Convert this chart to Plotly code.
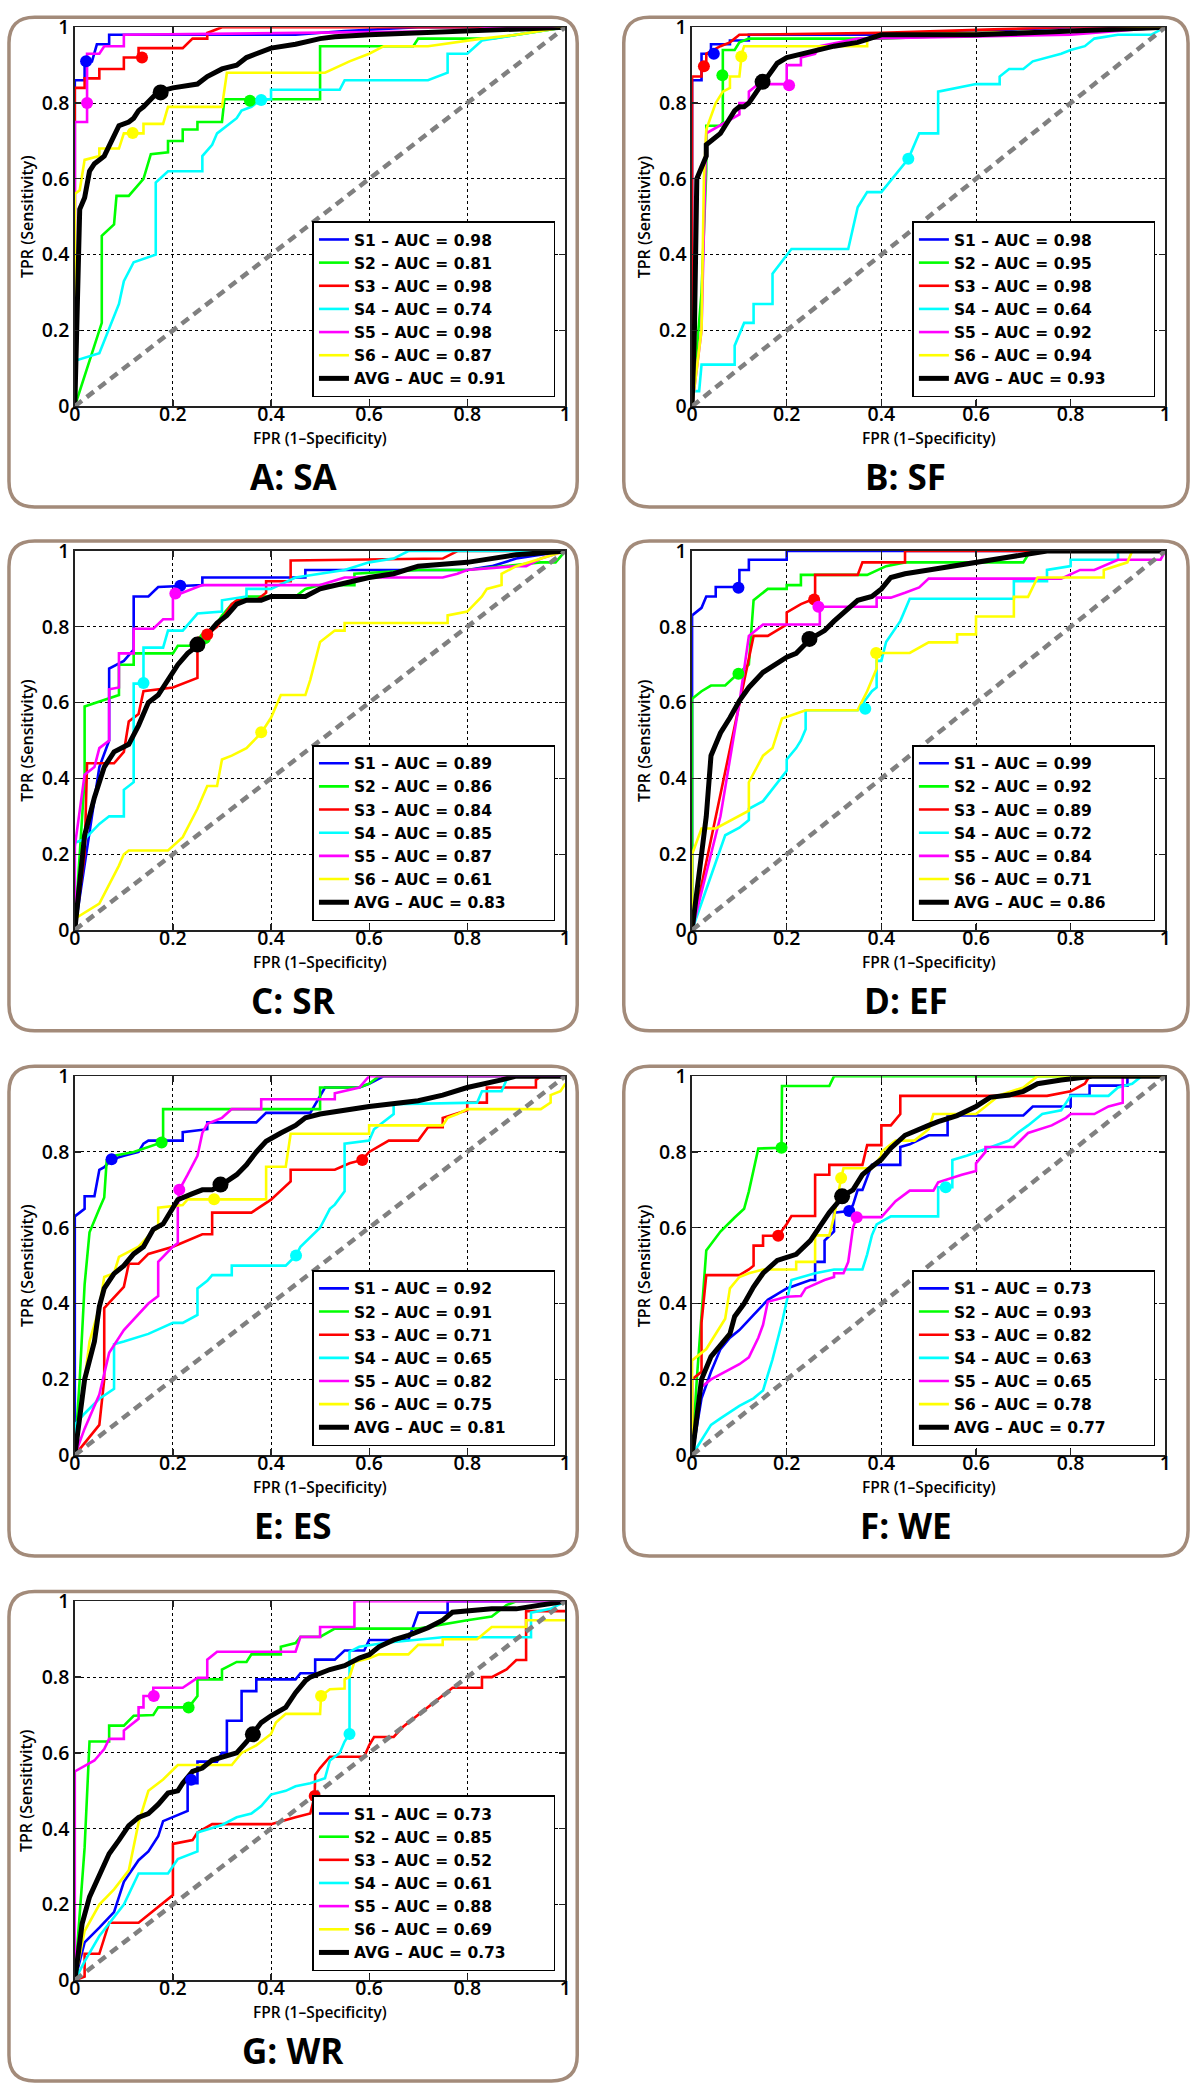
import plotly.graph_objects as go

# ---------------- data ----------------
PANEL_TITLES = ["A: SA", "B: SF", "C: SR", "D: EF", "E: ES", "F: WE", "G: WR"]
SERIES_NAMES = ["S1", "S2", "S3", "S4", "S5", "S6", "AVG"]
SERIES_COLORS = ["#0000ff", "#00ff00", "#ff0000", "#00ffff", "#ff00ff", "#ffff00", "#000000"]
TICK_VALS = [0, 0.2, 0.4, 0.6, 0.8, 1]
TICK_TEXT = ["0", "0.2", "0.4", "0.6", "0.8", "1"]

AUC_A = [0.98, 0.81, 0.98, 0.74, 0.98, 0.87, 0.91]
AUC_B = [0.98, 0.95, 0.98, 0.64, 0.92, 0.94, 0.93]
AUC_C = [0.89, 0.86, 0.84, 0.85, 0.87, 0.61, 0.83]
AUC_D = [0.99, 0.92, 0.89, 0.72, 0.84, 0.71, 0.86]
AUC_E = [0.92, 0.91, 0.71, 0.65, 0.82, 0.75, 0.81]
AUC_F = [0.73, 0.93, 0.82, 0.63, 0.65, 0.78, 0.77]
AUC_G = [0.73, 0.85, 0.52, 0.61, 0.88, 0.69, 0.73]

# ---- Panel A ----
A_S1 = [(0,0),(0,0.86),(0.02,0.86),(0.02,0.91),(0.035,0.91),(0.045,0.955),(0.07,0.955),(0.07,0.98),(0.45,0.98),(0.55,0.99),(0.7,1),(1,1)]
A_S2 = [(0,0),(0.055,0.22),(0.055,0.45),(0.08,0.48),(0.085,0.555),(0.11,0.555),(0.14,0.6),(0.155,0.665),(0.19,0.67),(0.19,0.70),(0.22,0.70),(0.22,0.73),(0.25,0.73),(0.25,0.75),(0.30,0.75),(0.305,0.81),(0.50,0.81),(0.50,0.95),(0.69,0.95),(0.70,0.97),(0.85,0.97),(1,1)]
A_S3 = [(0,0),(0,0.84),(0.02,0.84),(0.02,0.865),(0.05,0.865),(0.05,0.89),(0.10,0.89),(0.10,0.92),(0.13,0.92),(0.13,0.945),(0.22,0.945),(0.24,0.97),(0.27,0.97),(0.27,0.985),(0.30,1),(1,1)]
A_S4 = [(0,0),(0,0.12),(0.05,0.14),(0.09,0.27),(0.10,0.33),(0.12,0.38),(0.165,0.40),(0.165,0.59),(0.19,0.62),(0.26,0.62),(0.26,0.66),(0.28,0.69),(0.29,0.72),(0.33,0.76),(0.34,0.78),(0.36,0.79),(0.38,0.81),(0.40,0.81),(0.40,0.835),(0.54,0.835),(0.55,0.86),(0.72,0.86),(0.76,0.88),(0.76,0.93),(0.80,0.93),(0.83,0.965),(0.9,0.98),(1,1)]
A_S5 = [(0,0),(0,0.75),(0.025,0.75),(0.025,0.93),(0.05,0.93),(0.06,0.95),(0.10,0.95),(0.10,0.98),(0.80,0.99),(0.85,1),(1,1)]
A_S6 = [(0,0),(0,0.56),(0.01,0.57),(0.02,0.65),(0.05,0.66),(0.05,0.68),(0.09,0.68),(0.10,0.72),(0.14,0.72),(0.14,0.745),(0.18,0.745),(0.19,0.79),(0.30,0.79),(0.31,0.88),(0.51,0.88),(0.56,0.91),(0.60,0.93),(0.63,0.95),(0.72,0.95),(0.83,0.97),(0.9,0.98),(1,1)]
A_AVG = [(0,0),(0.005,0.3),(0.01,0.52),(0.02,0.55),(0.03,0.62),(0.04,0.64),(0.06,0.66),(0.075,0.70),(0.09,0.74),(0.11,0.75),(0.12,0.76),(0.13,0.78),(0.14,0.79),(0.155,0.81),(0.17,0.83),(0.2,0.84),(0.25,0.85),(0.27,0.87),(0.3,0.89),(0.33,0.90),(0.35,0.92),(0.4,0.945),(0.45,0.955),(0.5,0.97),(0.53,0.975),(0.6,0.98),(0.8,0.99),(1,1)]
A_MARK_X = [0.023, 0.357, 0.137, 0.38, 0.025, 0.118, 0.175]
A_MARK_Y = [0.91, 0.806, 0.92, 0.808, 0.80, 0.721, 0.828]

# ---- Panel B ----
B_S1 = [(0,0),(0,0.86),(0.02,0.86),(0.02,0.93),(0.04,0.93),(0.04,0.955),(0.08,0.955),(0.08,0.965),(0.12,0.965),(0.12,0.98),(0.4,0.98),(0.8,1),(1,1)]
B_S2 = [(0,0),(0.02,0.3),(0.03,0.62),(0.03,0.74),(0.06,0.74),(0.065,0.75),(0.065,0.94),(0.09,0.94),(0.10,0.96),(0.12,0.97),(0.4,0.97),(0.8,0.99),(1,1)]
B_S3 = [(0,0),(0,0.87),(0.02,0.87),(0.02,0.89),(0.03,0.90),(0.03,0.93),(0.06,0.95),(0.08,0.96),(0.10,0.98),(0.4,0.985),(0.78,1),(1,1)]
B_S4 = [(0,0),(0,0.04),(0.015,0.04),(0.02,0.11),(0.09,0.11),(0.09,0.16),(0.11,0.22),(0.13,0.22),(0.13,0.27),(0.17,0.27),(0.17,0.35),(0.2,0.40),(0.21,0.415),(0.33,0.415),(0.35,0.525),(0.37,0.565),(0.40,0.565),(0.457,0.653),(0.48,0.72),(0.52,0.72),(0.52,0.83),(0.6,0.85),(0.65,0.85),(0.65,0.87),(0.67,0.89),(0.7,0.89),(0.72,0.91),(0.78,0.93),(0.8,0.94),(0.83,0.95),(0.85,0.97),(0.9,0.98),(0.97,0.98),(1,1)]
B_S5 = [(0,0),(0.02,0.2),(0.03,0.72),(0.10,0.77),(0.10,0.80),(0.12,0.80),(0.12,0.83),(0.14,0.85),(0.2,0.85),(0.2,0.90),(0.23,0.90),(0.23,0.92),(0.26,0.93),(0.27,0.95),(0.35,0.97),(0.8,0.98),(1,1)]
B_S6 = [(0,0),(0.02,0.2),(0.025,0.6),(0.03,0.73),(0.05,0.80),(0.065,0.83),(0.08,0.84),(0.08,0.87),(0.10,0.87),(0.105,0.93),(0.11,0.95),(0.37,0.95),(0.37,0.97),(0.4,0.98),(0.8,0.99),(1,1)]
B_AVG = [(0,0),(0.005,0.2),(0.01,0.6),(0.02,0.63),(0.03,0.66),(0.03,0.69),(0.04,0.70),(0.05,0.71),(0.06,0.72),(0.07,0.74),(0.08,0.76),(0.09,0.78),(0.1,0.79),(0.11,0.79),(0.12,0.80),(0.14,0.84),(0.15,0.855),(0.16,0.87),(0.17,0.89),(0.18,0.905),(0.2,0.92),(0.23,0.93),(0.26,0.94),(0.3,0.95),(0.35,0.96),(0.4,0.98),(0.6,0.98),(0.8,0.99),(1,1)]
B_MARK_X = [0.046, 0.064, 0.025, 0.457, 0.205, 0.104, 0.149]
B_MARK_Y = [0.93, 0.873, 0.897, 0.653, 0.847, 0.923, 0.856]

# ---- Panel C ----
C_S1 = [(0,0),(0.05,0.43),(0.07,0.50),(0.07,0.69),(0.10,0.71),(0.12,0.74),(0.12,0.88),(0.15,0.88),(0.17,0.905),(0.26,0.91),(0.26,0.93),(0.47,0.93),(0.47,0.95),(0.8,0.95),(0.85,0.96),(0.9,0.98),(1,1)]
C_S2 = [(0,0),(0.02,0.4),(0.02,0.59),(0.07,0.61),(0.09,0.62),(0.09,0.70),(0.12,0.70),(0.12,0.73),(0.2,0.73),(0.21,0.75),(0.25,0.75),(0.27,0.77),(0.3,0.83),(0.32,0.86),(0.35,0.88),(0.45,0.88),(0.47,0.90),(0.5,0.91),(0.57,0.91),(0.57,0.94),(0.7,0.95),(0.8,0.95),(0.95,0.97),(0.98,0.97),(1,1)]
C_S3 = [(0,0),(0.02,0.2),(0.025,0.44),(0.08,0.44),(0.10,0.47),(0.11,0.55),(0.13,0.57),(0.14,0.63),(0.2,0.64),(0.25,0.665),(0.25,0.77),(0.27,0.78),(0.29,0.80),(0.3,0.82),(0.32,0.86),(0.33,0.87),(0.37,0.87),(0.39,0.89),(0.39,0.92),(0.44,0.92),(0.44,0.975),(0.75,0.98),(0.78,1),(1,1)]
C_S4 = [(0,0),(0,0.23),(0.02,0.24),(0.05,0.28),(0.07,0.30),(0.10,0.30),(0.10,0.37),(0.12,0.39),(0.12,0.65),(0.14,0.65),(0.14,0.745),(0.18,0.745),(0.19,0.79),(0.22,0.79),(0.25,0.835),(0.3,0.84),(0.3,0.87),(0.35,0.88),(0.35,0.90),(0.4,0.90),(0.45,0.93),(0.5,0.94),(0.55,0.95),(0.6,0.97),(0.65,0.98),(0.68,1),(1,1)]
C_S5 = [(0,0),(0,0.22),(0.02,0.41),(0.04,0.43),(0.05,0.48),(0.07,0.50),(0.07,0.635),(0.09,0.64),(0.09,0.73),(0.12,0.73),(0.12,0.795),(0.16,0.795),(0.18,0.82),(0.2,0.82),(0.2,0.88),(0.22,0.89),(0.24,0.90),(0.26,0.91),(0.5,0.91),(0.55,0.93),(0.75,0.93),(0.78,0.94),(0.8,0.95),(0.9,0.96),(0.92,0.96),(0.95,0.98),(1,1)]
C_S6 = [(0,0),(0,0.03),(0.05,0.07),(0.09,0.17),(0.10,0.20),(0.11,0.21),(0.19,0.21),(0.22,0.245),(0.25,0.32),(0.27,0.38),(0.29,0.38),(0.30,0.45),(0.32,0.46),(0.35,0.48),(0.38,0.52),(0.4,0.56),(0.42,0.62),(0.47,0.62),(0.48,0.66),(0.5,0.76),(0.53,0.79),(0.55,0.79),(0.55,0.81),(0.76,0.81),(0.76,0.83),(0.8,0.84),(0.83,0.88),(0.84,0.90),(0.87,0.91),(0.87,0.94),(0.9,0.96),(0.95,0.98),(1,1)]
C_AVG = [(0,0),(0.02,0.25),(0.04,0.35),(0.06,0.43),(0.08,0.47),(0.11,0.49),(0.13,0.54),(0.15,0.60),(0.17,0.62),(0.19,0.66),(0.21,0.70),(0.23,0.73),(0.25,0.75),(0.27,0.78),(0.29,0.81),(0.31,0.83),(0.33,0.86),(0.35,0.87),(0.38,0.87),(0.4,0.88),(0.47,0.88),(0.5,0.90),(0.53,0.91),(0.6,0.93),(0.65,0.94),(0.7,0.96),(0.8,0.97),(0.9,0.99),(1,1)]
C_MARK_X = [0.215, 0.265, 0.27, 0.14, 0.205, 0.38, 0.25]
C_MARK_Y = [0.908, 0.77, 0.78, 0.652, 0.888, 0.522, 0.753]

# ---- Panel D ----
D_S1 = [(0,0),(0,0.83),(0.02,0.85),(0.03,0.88),(0.05,0.88),(0.05,0.905),(0.10,0.905),(0.10,0.95),(0.12,0.95),(0.12,0.977),(0.2,0.977),(0.2,1),(1,1)]
D_S2 = [(0,0),(0,0.61),(0.02,0.63),(0.04,0.645),(0.07,0.645),(0.09,0.67),(0.10,0.68),(0.12,0.70),(0.13,0.87),(0.16,0.90),(0.2,0.90),(0.2,0.91),(0.23,0.91),(0.23,0.937),(0.37,0.937),(0.41,0.96),(0.45,0.97),(0.70,0.97),(0.71,0.99),(0.72,1),(1,1)]
D_S3 = [(0,0),(0.12,0.72),(0.13,0.776),(0.16,0.776),(0.2,0.806),(0.2,0.838),(0.23,0.86),(0.25,0.87),(0.26,0.872),(0.26,0.937),(0.35,0.937),(0.36,0.97),(0.45,0.97),(0.45,1),(1,1)]
D_S4 = [(0,0),(0.07,0.25),(0.10,0.27),(0.12,0.29),(0.12,0.32),(0.15,0.34),(0.2,0.42),(0.2,0.45),(0.22,0.48),(0.23,0.50),(0.24,0.53),(0.24,0.58),(0.35,0.58),(0.38,0.63),(0.39,0.64),(0.39,0.71),(0.40,0.71),(0.41,0.76),(0.44,0.815),(0.46,0.874),(0.68,0.874),(0.68,0.92),(0.75,0.92),(0.75,0.95),(0.8,0.96),(0.8,0.977),(0.9,0.977),(0.9,1),(1,1)]
D_S5 = [(0,0),(0.06,0.3),(0.10,0.6),(0.12,0.776),(0.15,0.806),(0.27,0.806),(0.27,0.853),(0.39,0.853),(0.39,0.877),(0.42,0.877),(0.45,0.89),(0.48,0.904),(0.5,0.927),(0.78,0.927),(0.82,0.95),(0.85,0.95),(0.9,0.977),(0.99,0.977),(1,1)]
D_S6 = [(0,0),(0,0.2),(0.02,0.268),(0.05,0.268),(0.12,0.315),(0.12,0.39),(0.15,0.46),(0.17,0.48),(0.19,0.558),(0.24,0.58),(0.35,0.58),(0.37,0.63),(0.39,0.69),(0.39,0.731),(0.46,0.731),(0.5,0.759),(0.56,0.759),(0.56,0.78),(0.6,0.78),(0.6,0.827),(0.68,0.827),(0.68,0.879),(0.71,0.879),(0.73,0.93),(0.87,0.93),(0.87,0.95),(0.92,0.97),(0.93,1),(1,1)]
D_AVG = [(0,0),(0.01,0.1),(0.03,0.3),(0.04,0.46),(0.06,0.52),(0.08,0.56),(0.1,0.605),(0.12,0.64),(0.15,0.68),(0.2,0.72),(0.22,0.73),(0.25,0.768),(0.28,0.79),(0.3,0.815),(0.33,0.85),(0.35,0.87),(0.38,0.88),(0.4,0.9),(0.42,0.93),(0.45,0.94),(0.5,0.95),(0.55,0.96),(0.6,0.968),(0.65,0.98),(0.7,0.99),(0.75,1),(1,1)]
D_MARK_X = [0.098, 0.098, 0.258, 0.366, 0.267, 0.389, 0.248]
D_MARK_Y = [0.903, 0.676, 0.872, 0.584, 0.853, 0.731, 0.768]

# ---- Panel E ----
E_S1 = [(0,0),(0,0.63),(0.02,0.65),(0.02,0.683),(0.04,0.683),(0.05,0.753),(0.06,0.76),(0.075,0.78),(0.1,0.79),(0.13,0.80),(0.14,0.822),(0.15,0.83),(0.22,0.83),(0.22,0.852),(0.27,0.86),(0.27,0.878),(0.37,0.878),(0.39,0.903),(0.48,0.903),(0.5,0.95),(0.51,0.97),(0.58,0.97),(0.6,0.98),(0.63,1),(1,1)]
E_S2 = [(0,0),(0.01,0.2),(0.02,0.45),(0.03,0.588),(0.05,0.65),(0.06,0.68),(0.065,0.778),(0.08,0.79),(0.12,0.80),(0.177,0.825),(0.18,0.83),(0.18,0.913),(0.5,0.913),(0.5,0.97),(0.58,0.97),(0.6,0.98),(0.62,1),(1,1)]
E_S3 = [(0,0),(0.05,0.08),(0.06,0.2),(0.06,0.388),(0.10,0.444),(0.11,0.505),(0.13,0.505),(0.15,0.531),(0.2,0.55),(0.26,0.583),(0.28,0.583),(0.28,0.64),(0.36,0.64),(0.4,0.674),(0.44,0.722),(0.44,0.753),(0.53,0.753),(0.56,0.77),(0.586,0.779),(0.6,0.8),(0.64,0.83),(0.7,0.83),(0.72,0.865),(0.75,0.865),(0.75,0.89),(0.8,0.91),(0.8,0.93),(0.84,0.93),(0.84,0.97),(0.94,0.97),(0.94,0.99),(0.95,1),(1,1)]
E_S4 = [(0,0),(0,0.08),(0.02,0.11),(0.05,0.149),(0.08,0.175),(0.08,0.293),(0.10,0.30),(0.15,0.32),(0.2,0.349),(0.22,0.349),(0.25,0.37),(0.25,0.44),(0.27,0.46),(0.28,0.475),(0.32,0.475),(0.32,0.50),(0.43,0.50),(0.451,0.527),(0.46,0.55),(0.48,0.575),(0.5,0.6),(0.52,0.65),(0.53,0.661),(0.55,0.696),(0.55,0.822),(0.6,0.83),(0.61,0.86),(0.65,0.9),(0.65,0.926),(0.82,0.93),(0.83,0.96),(0.87,0.96),(0.88,0.99),(0.9,1),(1,1)]
E_S5 = [(0,0),(0.02,0.07),(0.05,0.16),(0.07,0.27),(0.10,0.33),(0.12,0.357),(0.15,0.40),(0.17,0.42),(0.17,0.51),(0.2,0.55),(0.21,0.56),(0.21,0.657),(0.213,0.70),(0.23,0.74),(0.25,0.79),(0.26,0.85),(0.27,0.874),(0.3,0.89),(0.32,0.913),(0.38,0.913),(0.38,0.939),(0.53,0.939),(0.53,0.955),(0.58,0.97),(0.6,1),(1,1)]
E_S6 = [(0,0),(0.02,0.2),(0.03,0.3),(0.05,0.39),(0.06,0.47),(0.08,0.48),(0.09,0.523),(0.13,0.55),(0.16,0.592),(0.17,0.60),(0.17,0.653),(0.22,0.66),(0.23,0.675),(0.39,0.675),(0.39,0.761),(0.43,0.761),(0.44,0.848),(0.6,0.848),(0.6,0.87),(0.75,0.87),(0.76,0.89),(0.78,0.90),(0.8,0.913),(0.95,0.913),(0.97,0.93),(0.97,0.95),(0.99,0.96),(1,0.98)]
E_AVG = [(0,0),(0.01,0.1),(0.02,0.2),(0.04,0.3),(0.05,0.392),(0.06,0.44),(0.08,0.479),(0.1,0.5),(0.12,0.531),(0.14,0.55),(0.16,0.596),(0.18,0.61),(0.2,0.65),(0.21,0.674),(0.24,0.69),(0.26,0.70),(0.28,0.70),(0.3,0.714),(0.33,0.74),(0.35,0.766),(0.37,0.80),(0.39,0.828),(0.42,0.85),(0.45,0.87),(0.47,0.89),(0.5,0.90),(0.6,0.92),(0.7,0.935),(0.75,0.95),(0.8,0.97),(0.87,0.99),(0.9,1),(1,1)]
E_MARK_X = [0.075, 0.177, 0.586, 0.451, 0.213, 0.284, 0.297]
E_MARK_Y = [0.781, 0.825, 0.779, 0.527, 0.70, 0.675, 0.714]

# ---- Panel F ----
F_S1 = [(0,0),(0.02,0.15),(0.04,0.22),(0.06,0.28),(0.08,0.31),(0.10,0.33),(0.13,0.37),(0.16,0.41),(0.2,0.44),(0.25,0.462),(0.26,0.462),(0.26,0.51),(0.28,0.51),(0.28,0.566),(0.3,0.59),(0.3,0.64),(0.332,0.644),(0.34,0.66),(0.35,0.70),(0.36,0.70),(0.38,0.766),(0.44,0.766),(0.44,0.813),(0.46,0.82),(0.5,0.844),(0.54,0.844),(0.54,0.896),(0.7,0.896),(0.72,0.92),(0.8,0.92),(0.8,0.95),(0.84,0.95),(0.84,0.975),(0.92,0.975),(0.92,1),(1,1)]
F_S2 = [(0,0),(0.01,0.2),(0.03,0.54),(0.06,0.59),(0.09,0.627),(0.11,0.65),(0.12,0.696),(0.13,0.75),(0.14,0.809),(0.189,0.811),(0.19,0.974),(0.29,0.974),(0.3,1),(1,1)]
F_S3 = [(0,0),(0,0.2),(0.02,0.22),(0.02,0.35),(0.03,0.475),(0.10,0.475),(0.12,0.49),(0.13,0.50),(0.13,0.553),(0.15,0.553),(0.15,0.579),(0.182,0.579),(0.2,0.61),(0.21,0.631),(0.26,0.631),(0.26,0.74),(0.29,0.74),(0.29,0.766),(0.36,0.766),(0.37,0.818),(0.4,0.818),(0.4,0.87),(0.42,0.87),(0.44,0.9),(0.44,0.948),(0.75,0.948),(0.8,0.96),(0.83,0.98),(0.84,1),(1,1)]
F_S4 = [(0,0),(0.04,0.08),(0.06,0.097),(0.10,0.13),(0.13,0.15),(0.15,0.171),(0.17,0.253),(0.19,0.35),(0.21,0.462),(0.26,0.48),(0.3,0.49),(0.36,0.49),(0.37,0.53),(0.38,0.58),(0.39,0.609),(0.42,0.63),(0.52,0.63),(0.52,0.707),(0.55,0.707),(0.55,0.779),(0.58,0.79),(0.65,0.82),(0.67,0.83),(0.69,0.852),(0.71,0.87),(0.74,0.90),(0.78,0.91),(0.8,0.948),(0.88,0.948),(0.9,0.97),(0.93,0.98),(0.95,1),(1,1)]
F_S5 = [(0,0),(0.01,0.1),(0.02,0.18),(0.04,0.2),(0.10,0.24),(0.12,0.258),(0.14,0.31),(0.15,0.344),(0.16,0.405),(0.2,0.418),(0.23,0.42),(0.24,0.44),(0.28,0.462),(0.3,0.47),(0.3,0.48),(0.32,0.48),(0.33,0.51),(0.34,0.60),(0.348,0.628),(0.4,0.628),(0.43,0.67),(0.46,0.698),(0.51,0.698),(0.52,0.72),(0.57,0.74),(0.6,0.75),(0.6,0.77),(0.62,0.8),(0.62,0.813),(0.68,0.813),(0.71,0.85),(0.76,0.87),(0.79,0.89),(0.8,0.90),(0.85,0.90),(0.88,0.92),(0.91,0.93),(0.91,1),(1,1)]
F_S6 = [(0,0),(0,0.25),(0.03,0.28),(0.05,0.32),(0.07,0.36),(0.08,0.44),(0.10,0.47),(0.12,0.48),(0.15,0.49),(0.22,0.49),(0.22,0.51),(0.26,0.51),(0.26,0.58),(0.29,0.58),(0.3,0.63),(0.315,0.731),(0.32,0.757),(0.38,0.757),(0.4,0.79),(0.4,0.80),(0.43,0.83),(0.47,0.83),(0.5,0.86),(0.51,0.90),(0.6,0.90),(0.62,0.92),(0.65,0.95),(0.7,0.97),(0.73,1),(1,1)]
F_AVG = [(0,0),(0.01,0.1),(0.02,0.2),(0.04,0.26),(0.06,0.29),(0.08,0.32),(0.09,0.366),(0.11,0.40),(0.13,0.444),(0.15,0.48),(0.18,0.514),(0.22,0.53),(0.25,0.566),(0.27,0.605),(0.29,0.64),(0.31,0.67),(0.317,0.683),(0.34,0.70),(0.36,0.74),(0.38,0.761),(0.4,0.78),(0.42,0.81),(0.45,0.844),(0.5,0.87),(0.52,0.88),(0.56,0.896),(0.6,0.92),(0.63,0.944),(0.67,0.95),(0.7,0.96),(0.73,0.98),(0.78,0.99),(0.85,1),(1,1)]
F_MARK_X = [0.332, 0.189, 0.182, 0.536, 0.348, 0.315, 0.317]
F_MARK_Y = [0.644, 0.811, 0.579, 0.707, 0.628, 0.731, 0.683]

# ---- Panel G ----
G_S1 = [(0,0),(0.02,0.1),(0.05,0.139),(0.08,0.18),(0.10,0.26),(0.13,0.317),(0.15,0.34),(0.17,0.38),(0.18,0.42),(0.2,0.43),(0.23,0.447),(0.23,0.52),(0.25,0.52),(0.25,0.577),(0.29,0.577),(0.3,0.60),(0.31,0.60),(0.31,0.685),(0.34,0.685),(0.34,0.763),(0.37,0.763),(0.37,0.794),(0.45,0.794),(0.46,0.81),(0.49,0.81),(0.49,0.846),(0.53,0.846),(0.55,0.87),(0.59,0.87),(0.6,0.898),(0.68,0.898),(0.7,0.97),(0.76,0.97),(0.76,1),(1,1)]
G_S2 = [(0,0),(0.02,0.35),(0.03,0.63),(0.07,0.63),(0.07,0.672),(0.10,0.672),(0.12,0.698),(0.16,0.70),(0.17,0.72),(0.232,0.72),(0.25,0.75),(0.25,0.794),(0.3,0.794),(0.3,0.82),(0.33,0.84),(0.35,0.84),(0.36,0.86),(0.42,0.86),(0.42,0.88),(0.45,0.89),(0.46,0.906),(0.5,0.906),(0.53,0.928),(0.7,0.928),(0.8,0.95),(0.85,0.96),(0.88,0.99),(0.9,1),(1,1)]
G_S3 = [(0,0),(0.02,0.01),(0.02,0.07),(0.05,0.07),(0.07,0.152),(0.13,0.152),(0.2,0.225),(0.2,0.36),(0.24,0.37),(0.25,0.39),(0.28,0.412),(0.4,0.412),(0.45,0.43),(0.47,0.438),(0.48,0.44),(0.489,0.486),(0.49,0.542),(0.5,0.56),(0.52,0.59),(0.59,0.59),(0.6,0.62),(0.61,0.642),(0.65,0.642),(0.67,0.67),(0.69,0.69),(0.7,0.70),(0.73,0.73),(0.77,0.772),(0.83,0.772),(0.83,0.80),(0.85,0.80),(0.88,0.82),(0.9,0.845),(0.92,0.845),(0.92,0.974),(1,0.974)]
G_S4 = [(0,0),(0.02,0.05),(0.05,0.117),(0.10,0.2),(0.13,0.282),(0.19,0.282),(0.21,0.32),(0.25,0.34),(0.25,0.39),(0.3,0.41),(0.33,0.43),(0.36,0.44),(0.38,0.46),(0.4,0.49),(0.43,0.50),(0.45,0.512),(0.48,0.52),(0.51,0.533),(0.52,0.58),(0.54,0.60),(0.55,0.63),(0.56,0.65),(0.56,0.867),(0.58,0.88),(0.63,0.89),(0.75,0.905),(0.93,0.905),(0.93,0.97),(0.97,0.98),(1,1)]
G_S5 = [(0,0),(0,0.551),(0.04,0.58),(0.06,0.61),(0.07,0.637),(0.10,0.637),(0.10,0.659),(0.13,0.69),(0.13,0.72),(0.14,0.72),(0.14,0.75),(0.16,0.75),(0.16,0.772),(0.22,0.772),(0.25,0.798),(0.27,0.798),(0.27,0.846),(0.29,0.867),(0.45,0.867),(0.46,0.906),(0.5,0.906),(0.5,0.932),(0.57,0.932),(0.57,1),(1,1)]
G_S6 = [(0,0),(0.02,0.13),(0.05,0.2),(0.08,0.24),(0.11,0.29),(0.12,0.35),(0.13,0.416),(0.15,0.50),(0.18,0.53),(0.21,0.568),(0.32,0.568),(0.34,0.60),(0.37,0.62),(0.4,0.65),(0.41,0.68),(0.43,0.703),(0.5,0.703),(0.502,0.75),(0.52,0.768),(0.55,0.77),(0.55,0.794),(0.56,0.80),(0.57,0.84),(0.6,0.85),(0.62,0.86),(0.68,0.86),(0.7,0.885),(0.75,0.885),(0.75,0.90),(0.82,0.90),(0.85,0.932),(0.92,0.932),(0.92,0.95),(1,0.95)]
G_AVG = [(0,0),(0.01,0.1),(0.015,0.15),(0.03,0.22),(0.05,0.28),(0.07,0.334),(0.09,0.37),(0.11,0.408),(0.13,0.43),(0.15,0.44),(0.17,0.464),(0.19,0.494),(0.21,0.50),(0.22,0.52),(0.24,0.551),(0.26,0.56),(0.28,0.581),(0.31,0.594),(0.33,0.60),(0.35,0.629),(0.363,0.649),(0.38,0.68),(0.4,0.698),(0.43,0.72),(0.45,0.759),(0.47,0.79),(0.48,0.80),(0.5,0.81),(0.52,0.82),(0.55,0.83),(0.58,0.85),(0.6,0.859),(0.62,0.88),(0.65,0.898),(0.68,0.91),(0.72,0.93),(0.75,0.95),(0.77,0.971),(0.85,0.98),(0.9,0.98),(0.95,0.99),(1,1)]
G_MARK_X = [0.237, 0.232, 0.489, 0.56, 0.161, 0.502, 0.363]
G_MARK_Y = [0.529, 0.72, 0.486, 0.65, 0.75, 0.75, 0.649]

DIAG_X = [0, 1]
DIAG_Y = [0, 1]

PANELS = [
    ([A_S1, A_S2, A_S3, A_S4, A_S5, A_S6, A_AVG], AUC_A, A_MARK_X, A_MARK_Y),
    ([B_S1, B_S2, B_S3, B_S4, B_S5, B_S6, B_AVG], AUC_B, B_MARK_X, B_MARK_Y),
    ([C_S1, C_S2, C_S3, C_S4, C_S5, C_S6, C_AVG], AUC_C, C_MARK_X, C_MARK_Y),
    ([D_S1, D_S2, D_S3, D_S4, D_S5, D_S6, D_AVG], AUC_D, D_MARK_X, D_MARK_Y),
    ([E_S1, E_S2, E_S3, E_S4, E_S5, E_S6, E_AVG], AUC_E, E_MARK_X, E_MARK_Y),
    ([F_S1, F_S2, F_S3, F_S4, F_S5, F_S6, F_AVG], AUC_F, F_MARK_X, F_MARK_Y),
    ([G_S1, G_S2, G_S3, G_S4, G_S5, G_S6, G_AVG], AUC_G, G_MARK_X, G_MARK_Y),
]

# ---------------- layout geometry (pixels) ----------------
W, H = 1200, 2096
FONT = "Open Sans"
LEG_FONT = "DejaVu Sans"
COL_AX = [(69.5, 565), (693, 1171)]
COL_BOX = [(3, 577), (624, 1194)]
ROW_TOP = [13.4, 544, 1076, 1608]
AX_H = 384
BOX_COLOR = "#a38b7a"
LEG_PAD = "\u00a0" * 8


def pxx(x):
    return x / W


def pyy(y):
    return 1 - y / H


def rounded_path(x0, y0, x1, y1, r):
    pts = [
        f"M {pxx(x0 + r)},{pyy(y0)}",
        f"L {pxx(x1 - r)},{pyy(y0)}",
        f"Q {pxx(x1)},{pyy(y0)} {pxx(x1)},{pyy(y0 + r)}",
        f"L {pxx(x1)},{pyy(y1 - r)}",
        f"Q {pxx(x1)},{pyy(y1)} {pxx(x1 - r)},{pyy(y1)}",
        f"L {pxx(x0 + r)},{pyy(y1)}",
        f"Q {pxx(x0)},{pyy(y1)} {pxx(x0)},{pyy(y1 - r)}",
        f"L {pxx(x0)},{pyy(y0 + r)}",
        f"Q {pxx(x0)},{pyy(y0)} {pxx(x0 + r)},{pyy(y0)}",
        "Z",
    ]
    return " ".join(pts)


fig = go.Figure()
layout = dict(
    width=W, height=H,
    margin=dict(l=0, r=0, t=0, b=0),
    paper_bgcolor="white", plot_bgcolor="white",
    showlegend=True,
    font=dict(family=FONT, color="black"),
)
shapes = []
annotations = []

for i, (curves, aucs, mx, my) in enumerate(PANELS):
    row, col = divmod(i, 2)
    ax_l, ax_r = COL_AX[col]
    ax_t = ROW_TOP[row]
    ax_b = ax_t + AX_H
    suffix = "" if i == 0 else str(i + 1)
    xref, yref = "x" + suffix, "y" + suffix
    legname = "legend" + suffix

    for k, pts in enumerate(curves):
        xs = [p[0] for p in pts]
        ys = [p[1] for p in pts]
        is_avg = (k == 6)
        fig.add_trace(go.Scatter(
            x=xs, y=ys, mode="lines",
            line=dict(color=SERIES_COLORS[k], width=5 if is_avg else 2.6),
            name=f"{SERIES_NAMES[k]} – AUC = {aucs[k]:.2f}{LEG_PAD}",
            xaxis=xref, yaxis=yref, legend=legname, hoverinfo="skip",
        ))
    fig.add_trace(go.Scatter(
        x=DIAG_X, y=DIAG_Y, mode="lines",
        line=dict(color="#808080", width=4.5, dash="9px,6px"),
        showlegend=False, xaxis=xref, yaxis=yref, hoverinfo="skip",
    ))
    for k in range(7):
        fig.add_trace(go.Scatter(
            x=[mx[k]], y=[my[k]], mode="markers",
            marker=dict(color=SERIES_COLORS[k], size=16 if k == 6 else 12, line=dict(width=0)),
            showlegend=False, xaxis=xref, yaxis=yref, hoverinfo="skip",
        ))

    axis_common = dict(
        range=[0, 1], tickmode="array", tickvals=TICK_VALS, ticktext=TICK_TEXT,
        showgrid=True, gridcolor="#000000", griddash="dot", gridwidth=1,
        showline=True, linecolor="#222222", linewidth=1.6, mirror="ticks",
        ticks="inside", ticklen=6, tickcolor="#222222", tickwidth=1.2,
        zeroline=False, fixedrange=True,
        tickfont=dict(family=FONT, size=19.5, color="black", weight=600),
    )
    layout["xaxis" + suffix] = dict(axis_common, domain=[pxx(ax_l), pxx(ax_r)], anchor=yref,
                                    ticklabelstandoff=-10)
    layout["yaxis" + suffix] = dict(axis_common, domain=[pyy(ax_b), pyy(ax_t)], anchor=xref)

    layout[legname] = dict(
        x=pxx(ax_r - 10), y=pyy(ax_b - 9), xanchor="right", yanchor="bottom",
        xref="paper", yref="paper",
        bgcolor="white", bordercolor="black", borderwidth=1.5,
        font=dict(family=LEG_FONT, size=15.5, color="black", weight=700),
        tracegroupgap=0, itemwidth=30,
    )

    bx0, bx1 = COL_BOX[col]
    by0, by1 = ax_t - 10, ax_t + 486
    shapes.append(dict(type="path", xref="paper", yref="paper",
                       path=rounded_path(bx0, by0, bx1, by1, 26),
                       line=dict(color=BOX_COLOR, width=3.5), layer="below"))

    annotations.append(dict(
        x=pxx((ax_l + ax_r) / 2), y=pyy(ax_b + 32), xref="paper", yref="paper",
        text="FPR (1–Specificity)", showarrow=False, xanchor="center", yanchor="middle",
        font=dict(family=FONT, size=15.5, color="black", weight=600)))
    annotations.append(dict(
        x=pxx(ax_l - 49), y=pyy((ax_t + ax_b) / 2), xref="paper", yref="paper",
        text="TPR (Sensitivity)", showarrow=False, textangle=-90,
        xanchor="center", yanchor="middle",
        font=dict(family=FONT, size=16, color="black", weight=600)))
    annotations.append(dict(
        x=pxx((bx0 + bx1) / 2), y=pyy(ax_b + 71), xref="paper", yref="paper",
        text=PANEL_TITLES[i], showarrow=False, xanchor="center", yanchor="middle",
        font=dict(family=FONT, size=35, color="black", weight=700)))

layout["shapes"] = shapes
layout["annotations"] = annotations
fig.update_layout(**layout)

fig.write_html(
    "out.html",
    config={"displayModeBar": False, "staticPlot": True},
    post_script="document.body.style.margin='0';document.body.style.overflow='hidden';",
)
